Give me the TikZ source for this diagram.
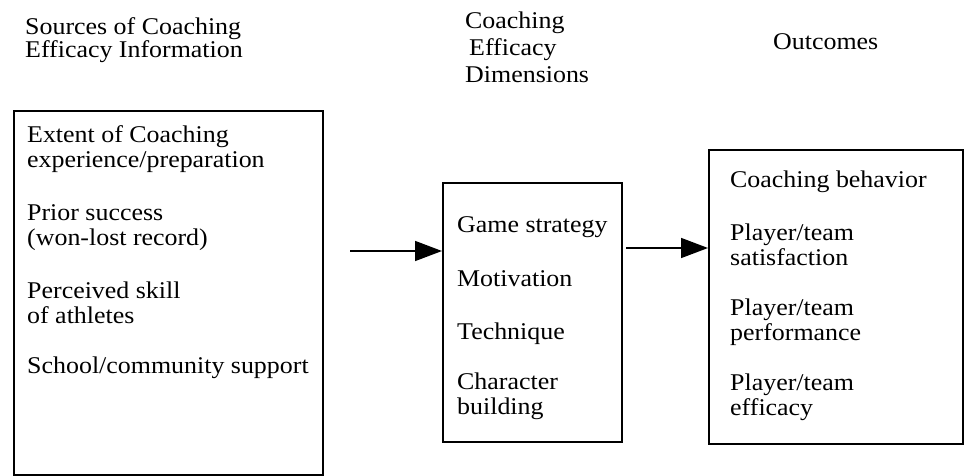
\documentclass[tikz,border=0pt]{standalone}
\usepackage{fontspec}
\setmainfont{Liberation Serif}[FakeStretch=1.08]
\usetikzlibrary{arrows.meta, positioning, calc}
\tikzset{
  panel/.style={rectangle, draw=black, line width=1.6pt, anchor=north west, inner sep=0pt},
  entries/.style={anchor=north west, inner sep=0pt, align=left, font=\fontsize{24}{25}\selectfont},
  heading/.style={inner sep=0pt, align=left, font=\fontsize{24}{25}\selectfont},
  flow/.style={line width=1.6pt, -{Triangle[length=27pt, width=20pt]}}
}
\begin{document}
\begin{tikzpicture}[x=1pt, y=-1pt]
  \useasboundingbox (0,0) rectangle (964,476);

  % Column headings
  \node (srchead) [heading, anchor=north west] at (25,17.6) {Sources of Coaching\\[-2pt]Efficacy Information};
  \node (dimhead) [heading, anchor=north west, font=\fontsize{24}{27}\selectfont] at (465,11.6) {Coaching\\\hspace{4pt}Efficacy\\Dimensions};
  \node (outhead) [heading, anchor=base west] at (773,50) {Outcomes};

  % Boxes
  \node (srcbox) [panel, minimum width=309pt, minimum height=364pt] at (13,110) {};
  \node (dimbox) [panel, minimum width=179pt, minimum height=259pt] at (442,182) {};
  \node (outbox) [panel, minimum width=254pt, minimum height=294pt] at (708,149) {};

  % Box contents
  \node (srctext) [entries] at (27,125.6) {Extent of Coaching\\experience/preparation\\[28pt]Prior success\\(won-lost record)\\[28pt]Perceived skill\\of athletes\\[25pt]School/community support};
  \node (dimtext) [entries] at (457,216.6) {Game strategy\\[29pt]Motivation\\[28pt]Technique\\[25pt]Character\\building};
  \node (outtext) [entries] at (730,170.6) {Coaching behavior\\[28pt]Player/team\\satisfaction\\[25pt]Player/team\\performance\\[25pt]Player/team\\efficacy};

  % Connections
  \coordinate (tail1) at (350,251);
  \coordinate (tail2) at (626,248);
  \draw [flow] (tail1) -- (tail1 -| dimbox.west);
  \draw [flow] (tail2) -- (tail2 -| outbox.west);

\end{tikzpicture}
\end{document}
